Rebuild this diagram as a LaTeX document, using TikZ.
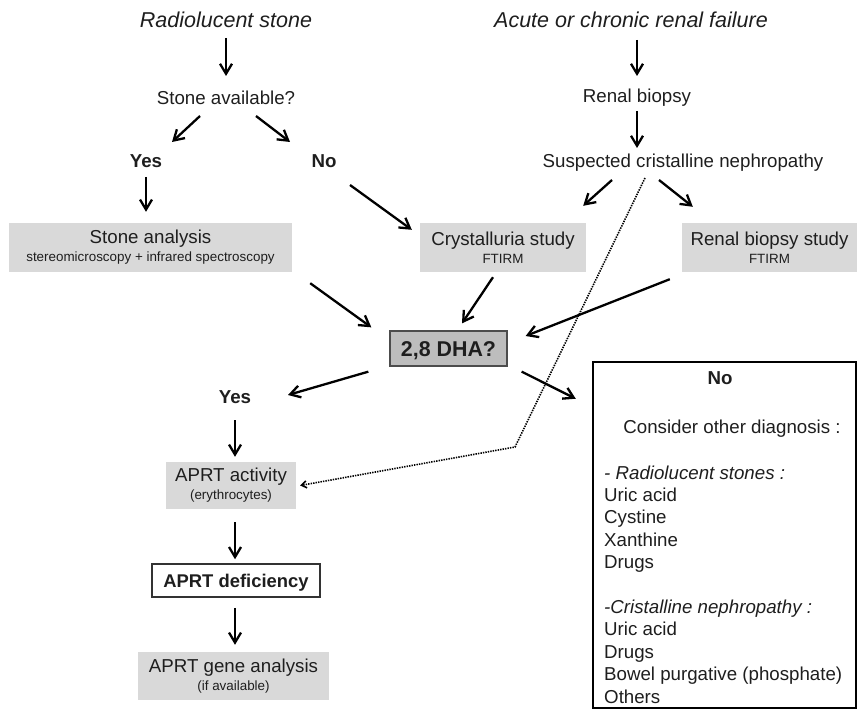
\documentclass[tikz,border=0pt]{standalone}
\usepackage{fontspec}
\setmainfont{Liberation Sans}
\usetikzlibrary{arrows.meta, calc}
\definecolor{boxc}{HTML}{D9D9D9}
\definecolor{qc}{HTML}{BDBDBD}
\definecolor{inkc}{HTML}{1E1E1E}
\tikzset{
  txt/.style={font=\fontsize{18.7}{22.4}\selectfont, text=inkc, inner sep=0pt,
              text height=13.4pt, text depth=0pt},
  ttl/.style={font=\itshape\fontsize{21.5}{24}\selectfont, text=inkc, inner sep=0pt,
              text height=15.4pt, text depth=0pt},
  ans/.style={txt, font=\bfseries\fontsize{18.7}{22.4}\selectfont},
  stepbox/.style={fill=boxc, align=center, inner sep=0pt, text=inkc,
                  font=\fontsize{18.7}{18}\selectfont},
  qbox/.style={fill=qc, draw=black!70, line width=1.3pt, inner sep=0pt, text=inkc,
               font=\bfseries\fontsize{21.4}{24}\selectfont, text height=15.3pt, text depth=0pt,
               minimum width=117pt, minimum height=35pt},
  resbox/.style={fill=white, draw=black!80, line width=1.5pt, inner sep=0pt, text=inkc,
                 font=\bfseries\fontsize{18.4}{22}\selectfont, text height=13.2pt, text depth=0pt,
                 minimum width=168pt, minimum height=33pt},
  nobox/.style={draw=black, line width=2.5pt, minimum width=263pt, minimum height=346pt},
  arr/.style={-{Straight Barb[length=10pt, width=12pt]}, line width=2.3pt},
  dots/.style={dash pattern=on 1.4pt off 1.1pt, line width=1.6pt,
               -{Straight Barb[length=5pt, width=7pt]}},
}
\newcommand{\smalltxt}[1]{{\fontsize{13.4}{18}\selectfont #1}}

\begin{document}
\begin{tikzpicture}[x=1pt, y=-1pt]
\useasboundingbox (0,0) rectangle (859,711);

% ---------------- the stone branch ----------------
\node[ttl] (rad) at (226,20) {Radiolucent stone};
\node[txt] (avail) at (226,98) {Stone available?};
\node[ans] (yesA) at (146,161) {Yes};
\node[ans] (noA) at (324,161) {No};
\node[stepbox, minimum width=283pt, minimum height=49pt] (stone) at (150.5,247.5)
  {Stone analysis\\\smalltxt{stereomicroscopy + infrared spectroscopy}};

\draw[arr, shorten <=18pt, shorten >=22pt] (rad.center) -- (avail.center);
\draw[arr] ($(avail)+(-26,18)$) -- ($(yesA)+(26,-19)$);
\draw[arr] ($(avail)+(30,18)$) -- ($(noA)+(-34,-19)$);
\draw[arr, shorten <=16pt, shorten >=11pt] (yesA.center) -- (yesA |- stone.north);

% ---------------- the renal branch ----------------
\node[ttl] (arf) at (631,20) {Acute or chronic renal failure};
\node[txt] (biopsy) at (637,96) {Renal biopsy};
\node[txt] (susp) at (683,161) {Suspected cristalline nephropathy};
\node[stepbox, minimum width=166pt, minimum height=49pt] (cryst) at (503,247.5)
  {Crystalluria study\\\smalltxt{FTIRM}};
\node[stepbox, minimum width=175pt, minimum height=49pt] (rbs) at (769.5,247.5)
  {Renal biopsy study\\\smalltxt{FTIRM}};

\draw[arr, shorten <=20pt, shorten >=20pt] (arf -| biopsy) -- (biopsy.center);
\draw[arr, shorten <=15pt, shorten >=13pt] (biopsy.center) -- (biopsy |- susp);
\draw[arr] ($(noA)+(26,24)$) -- ($(cryst.north west)+(-8,7)$);
\draw[arr] ($(susp)+(-71,19)$) -- ($(cryst.north east)+(-3,-17)$);
\draw[arr] ($(susp)+(-24,19)$) -- ($(rbs.north west)+(11,-16)$);

% ---------------- the question ----------------
\node[qbox] (dha) at (448.5,348.5) {2,8 DHA?};

\draw[arr] ($(stone.south east)+(18,11)$) -- ($(dha.north west)+(-18,-3)$);
\draw[arr] ($(cryst.south)+(-10,5)$) -- ($(dha.north)+(13.5,-7)$);
\draw[arr] ($(rbs.south west)+(-12,7)$) -- ($(dha.east)+(18,-12.5)$);

% ---------------- yes: the enzyme ----------------
\node[ans] (yesB) at (235,397) {Yes};
\node[stepbox, minimum width=130pt, minimum height=47pt] (act) at (231,485.5)
  {APRT activity\\\smalltxt{(erythrocytes)}};
\node[resbox] (defi) at (236,580.5) {APRT deficiency};
\node[stepbox, minimum width=191pt, minimum height=48pt] (gene) at (233.5,676)
  {APRT gene analysis\\\smalltxt{(if available)}};

\draw[arr] ($(dha.south west)+(-21,5)$) -- ($(yesB)+(53,-2)$);
\draw[arr, shorten <=23pt, shorten >=5pt] (yesB.center) -- (yesB |- act.north);
\draw[arr, shorten <=13pt, shorten >=4pt] (yesB |- act.south) -- (yesB |- defi.north);
\draw[arr, shorten <=10pt, shorten >=7pt] (yesB |- defi.south) -- (yesB |- gene.north);

% ---------------- no: other diagnosis ----------------
\node[nobox] (nobox) at (724.5,535) {};
\node[ans] (nohead) at (720,378) {No};
\node[txt] (consider) at (732,427) {Consider other diagnosis :};
\foreach \t/\r in {{\textit{- Radiolucent stones :}}/0, Uric acid/1, Cystine/2, Xanthine/3, Drugs/4,
                   {\textit{-Cristalline nephropathy :}}/6, Uric acid/7, Drugs/8,
                   Bowel purgative (phosphate)/9, Others/10} {
  \node[txt, anchor=base west] (diag\r) at (604,479+22.4*\r) {\t};
}

\draw[arr] ($(dha.south east)+(14,5)$) -- ($(nobox.north west)+(-16,38)$);

% the biopsy goes straight to the enzyme
\coordinate (bend) at (515,447);
\draw[dots] ($(susp)+(-38,17)$) -- (bend) -- ($(act.east)+(4,0)$);
\end{tikzpicture}
\end{document}
